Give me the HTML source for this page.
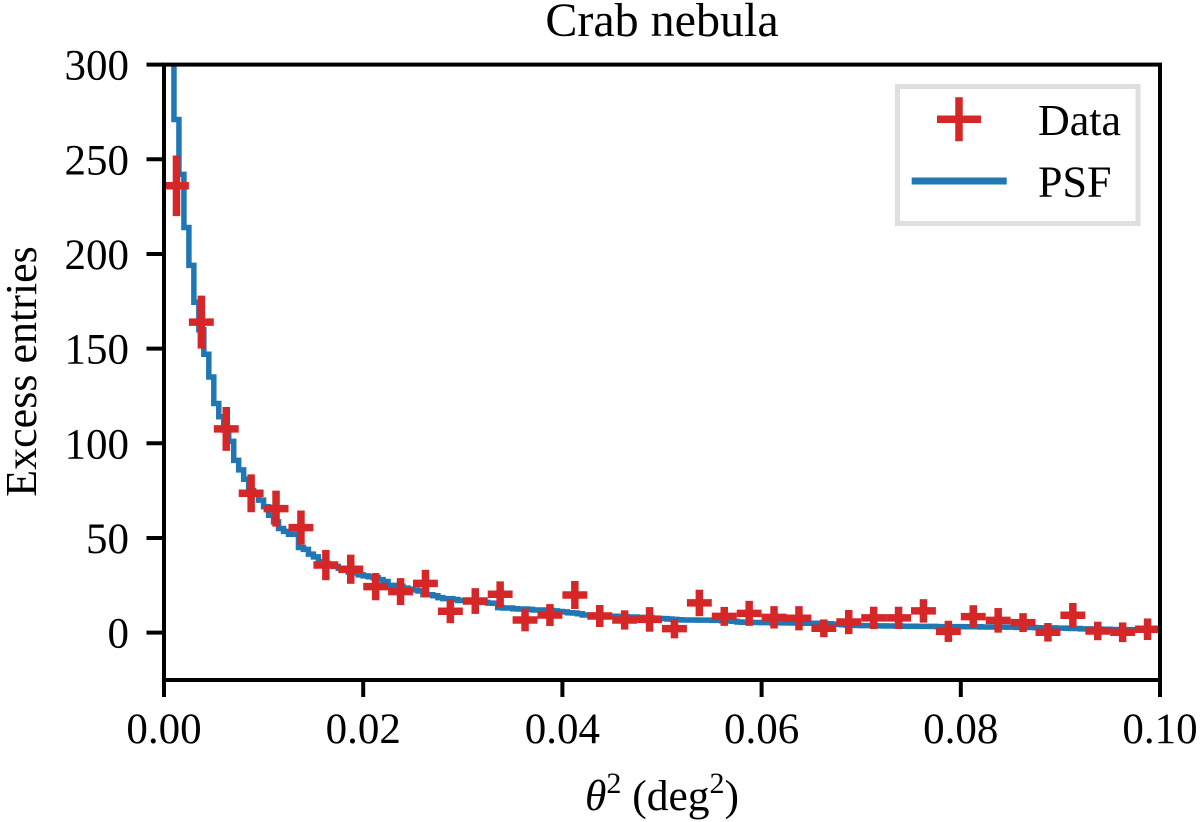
<!DOCTYPE html>
<html>
<head>
<meta charset="utf-8">
<style>
html,body{margin:0;padding:0;background:#fff;}
svg{display:block;}
text{font-family:"Liberation Serif",serif;fill:#000;}
</style>
</head>
<body>
<svg id="chart" xmlns="http://www.w3.org/2000/svg" width="1200" height="822" viewBox="0 0 1200 822">
<defs><clipPath id="plot-clip"><rect x="164" y="64.6" width="996" height="615.4"/></clipPath></defs>
<rect width="1200" height="822" fill="#fff"/>
<text x="662" y="36" font-size="48" text-anchor="middle">Crab nebula</text>
<g id="psf-layer" clip-path="url(#plot-clip)"></g>
<g id="data-layer"></g>
<g id="axes-layer"></g>
<text transform="translate(36,371.5) rotate(-90)" font-size="44" text-anchor="middle">Excess entries</text>
<text x="662" y="810" font-size="43.5" text-anchor="middle"><tspan font-style="italic">θ</tspan><tspan font-size="30" dy="-17">2</tspan><tspan dy="17"> (deg</tspan><tspan font-size="30" dy="-17">2</tspan><tspan dy="17">)</tspan></text>
<g>
<rect x="897.5" y="86.5" width="240.5" height="137" fill="#fff" stroke="#dfdfdf" stroke-width="5"/>
<g>
<line x1="937" x2="981" y1="119.3" y2="119.3" stroke="#d62728" stroke-width="7.5"/>
<line x1="959" x2="959" y1="97.3" y2="141.3" stroke="#d62728" stroke-width="7.5"/>
<text x="1038" y="135" font-size="44">Data</text>
</g>
<g>
<line x1="911.7" x2="1006.7" y1="181" y2="181" stroke="#1f77b4" stroke-width="7"/>
<text x="1038" y="196.7" font-size="44">PSF</text>
</g>
</g>
</svg>
<script>
const xTicks = [0, 0.02, 0.04, 0.06, 0.08, 0.10];
const xTickLabels = ["0.00", "0.02", "0.04", "0.06", "0.08", "0.10"];
const yTicks = [0, 50, 100, 150, 200, 250, 300];
const yTickLabels = ["0", "50", "100", "150", "200", "250", "300"];
const dataValues = [236, 164, 107.6, 73.6, 65.5, 55.5, 35.7, 33.5, 24.3, 21.7, 26, 11.3, 16.7, 20.3, 6.7, 9.3, 19.9, 8.8, 6.7, 7, 2.1, 15.7, 8.6, 10.2, 8.1, 7.6, 2.3, 5.6, 7.8, 7.8, 11.5, 0.7, 8.5, 6.5, 5.3, 0.2, 9.2, 0.9, 0.2, 1.8];
const dataErrors = [16, 14, 11.6, 10, 9.5, 9, 8, 7.7, 7.2, 7.1, 7.2, 6.3, 6.8, 6.8, 6, 5.8, 7.4, 5.8, 5.1, 6.5, 5.1, 7, 5, 6.6, 5.9, 6.4, 4.7, 6.4, 5.9, 5.9, 6.2, 5.6, 6, 6.5, 5, 4.9, 6.5, 4.9, 5.2, 5.7];
const psfValues = [
900, 420, 271, 242, 214, 194, 174.5, 160, 147, 135,
121, 114, 107, 101, 91, 86, 81, 75, 73, 70,
66.5, 62, 58.5, 55, 53.5, 52, 52, 45, 44, 41.5,
40, 37.5, 36.5, 36, 35, 34, 33, 32, 31.5, 30.5,
30, 29.5, 29, 28, 27, 25, 25, 24.5, 23.5, 23,
22.5, 22, 20, 20, 19.5, 18.5, 18, 18, 17.5, 17,
17, 16.5, 16.5, 16, 16, 15.6, 15.5, 13.2, 13, 13,
12.6, 12.5, 12.5, 12.3, 12, 12, 12, 11.8, 11.5, 11.2,
11, 10.5, 10.4, 10, 9.3, 9.3, 9.2, 9, 8.9, 8.7,
8.7, 8.5, 8.5, 8.3, 8.3, 8.1, 8, 8, 7.7, 7.5,
7.4, 7.2, 7, 6.8, 6.7, 6.7, 6.7, 6.6, 6.6, 6.6,
6.5, 6.5, 6.3, 6.2, 6, 5.6, 5.5, 5.5, 5.4, 5.4,
5.3, 5.3, 5.2, 5.2, 5.2, 5.2, 5.1, 5.1, 5, 5,
5, 5, 4.8, 4.7, 4.5, 4.4, 4.2, 4, 3.9, 3.8,
3.7, 3.7, 3.7, 3.6, 3.6, 3.5, 3.5, 3.5, 3.4, 3.4,
3.4, 3.3, 3.3, 3.3, 3.3, 3.2, 3.2, 3.2, 3.2, 3.2,
3.1, 3.1, 3.1, 3.1, 3, 3, 3, 3, 2.9, 2.9,
2.9, 2.8, 2.8, 2.7, 2.7, 2.6, 2.6, 2.5, 2.5, 2.4,
2.4, 2.3, 2.2, 2.2, 2, 2, 1.9, 1.9, 1.8, 1.8,
1.7, 1.7, 1.6, 1.6, 1.6, 1.5, 1.5, 1.4, 1.4, 1.3
];

const NS = 'http://www.w3.org/2000/svg';
const LEFT = 164, RIGHT = 1160, TOP = 64.6, BOTTOM = 680;
const X_MIN = 0, X_MAX = 0.1, Y_MIN = -25, Y_MAX = 300;
const DATA_BIN = (X_MAX - X_MIN) / dataValues.length;
const PSF_BIN = (X_MAX - X_MIN) / psfValues.length;

function xScale(v) { return LEFT + (v - X_MIN) / (X_MAX - X_MIN) * (RIGHT - LEFT); }
function yScale(v) { return BOTTOM - (v - Y_MIN) / (Y_MAX - Y_MIN) * (BOTTOM - TOP); }

function make(tag, attrs, parent) {
  const el = document.createElementNS(NS, tag);
  for (const k in attrs) el.setAttribute(k, attrs[k]);
  parent.appendChild(el);
  return el;
}

const psfLayer = document.getElementById('psf-layer');
const dataLayer = document.getElementById('data-layer');
const axesLayer = document.getElementById('axes-layer');

/* PSF histogram */
let psfPath = 'M' + xScale(0) + ' ' + yScale(psfValues[0]);
psfValues.forEach(function (v, i) {
  psfPath += 'L' + xScale(i * PSF_BIN).toFixed(2) + ' ' + yScale(v).toFixed(2);
  psfPath += 'L' + xScale((i + 1) * PSF_BIN).toFixed(2) + ' ' + yScale(v).toFixed(2);
});
const psfLine = make('path', { d: psfPath, fill: 'none', stroke: '#1f77b4', 'stroke-width': 5.5, 'stroke-linejoin': 'miter' }, psfLayer);



/* Data points with error bars */
dataValues.forEach(function (v, i) {
  const c = (i + 0.5) * DATA_BIN;
  const g = make('g', {}, dataLayer);
  
  
  const h = make('line', { x1: xScale(c - DATA_BIN / 2), x2: xScale(c + DATA_BIN / 2), y1: yScale(v), y2: yScale(v), stroke: '#d62728', 'stroke-width': 7.5 }, g);
  
  
  const e = make('line', { x1: xScale(c), x2: xScale(c), y1: yScale(v - dataErrors[i]), y2: yScale(v + dataErrors[i]), stroke: '#d62728', 'stroke-width': 7.5 }, g);
  
  
});

/* Axes */
const frame = make('rect', { x: LEFT, y: TOP, width: RIGHT - LEFT, height: BOTTOM - TOP, fill: 'none', stroke: '#000', 'stroke-width': 4, 'stroke-linejoin': 'miter' }, axesLayer);



xTicks.forEach(function (t, i) {
  const x = xScale(t);
  const tick = make('line', { x1: x, x2: x, y1: BOTTOM, y2: BOTTOM + 17, stroke: '#000', 'stroke-width': 4 }, axesLayer);
  
  
  const label = make('text', { x: x, y: 743, 'font-size': 43, 'text-anchor': 'middle' }, axesLayer);
  label.textContent = xTickLabels[i];
  
  
});

yTicks.forEach(function (t, i) {
  const y = yScale(t);
  const tick = make('line', { x1: LEFT - 17.5, x2: LEFT, y1: y, y2: y, stroke: '#000', 'stroke-width': 4 }, axesLayer);
  
  
  const label = make('text', { x: 129, y: y + 15, 'font-size': 43, 'text-anchor': 'end' }, axesLayer);
  label.textContent = yTickLabels[i];
  
  
});
</script>
</body>
</html>
